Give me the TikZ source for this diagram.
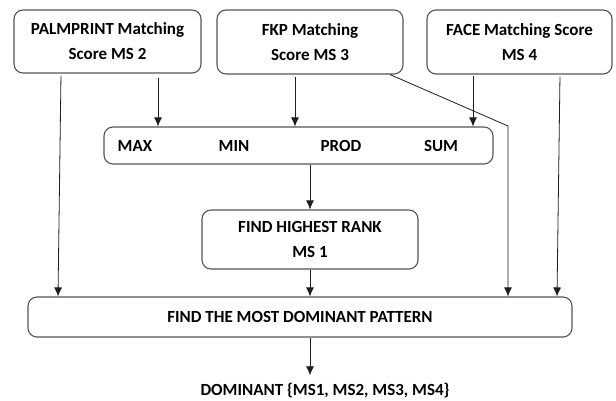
\documentclass[tikz,border=0pt]{standalone}
\usepackage{fontspec}
\setmainfont{Carlito}
\usetikzlibrary{arrows.meta}
\definecolor{boxgray}{RGB}{85,85,85}
\definecolor{linegray}{RGB}{30,30,30}

\tikzset{
  stage/.style={draw=boxgray, line width=1.1pt, rounded corners=9pt, align=center, inner sep=0pt,
    font=\fontsize{17}{25}\selectfont\bfseries},
  oplabel/.style={inner sep=0pt, font=\fontsize{17}{25}\selectfont\bfseries},
  arr/.style={draw=linegray, line width=0.8pt, -{Latex[length=9pt,width=8pt]}},
}

\begin{document}
\begin{tikzpicture}[x=1pt, y=-1pt]
\useasboundingbox (0,0) rectangle (616,400);

\node[stage, minimum width=187pt, minimum height=63pt] (palm) at (107.5,41.5) {PALMPRINT Matching\\Score MS 2};
\node[stage, minimum width=186pt, minimum height=64pt] (fkp) at (310,42) {FKP Matching\\Score MS 3};
\node[stage, minimum width=185pt, minimum height=64pt] (face) at (519.5,42) {FACE Matching Score\\MS 4};

\node[stage, minimum width=389pt, minimum height=37pt] (ops) at (298.5,145.5) {};
\node[oplabel] (max) at (135,146) {MAX};
\node[oplabel] (min) at (234,146) {MIN};
\node[oplabel] (prod) at (341,146) {PROD};
\node[oplabel] (sum) at (441,146) {SUM};

\node[stage, minimum width=216pt, minimum height=59pt] (rank) at (310,239.5) {FIND HIGHEST RANK\\MS 1};
\node[stage, minimum width=544pt, minimum height=40pt] (dom) at (300,317) {FIND THE MOST DOMINANT PATTERN};
\node[oplabel] (result) at (325,391) {DOMINANT \{MS1, MS2, MS3, MS4\}};

\coordinate (bend) at (508,126);

\draw[arr, shorten <=2pt] ([xshift=-46.5pt]palm.south) -- ([xshift=-242pt]dom.north);
\draw[arr, shorten <=4pt] ([xshift=50.5pt]palm.south) -- ([xshift=-140.5pt]ops.north);
\draw[arr, shorten <=2pt] ([xshift=-15pt]fkp.south) -- ([xshift=-3.5pt]ops.north);
\draw[arr] ([xshift=80pt]fkp.south) -- (bend) -- ([xshift=208pt]dom.north);
\draw[arr, shorten <=1pt] ([xshift=-46.5pt]face.south) -- ([xshift=174.5pt]ops.north);
\draw[arr, shorten <=2pt] ([xshift=40.5pt]face.south) -- ([xshift=257pt]dom.north);
\draw[arr] (ops.south -| rank.north) -- (rank.north);
\draw[arr] (rank.south) -- (rank.south |- dom.north);
\draw[arr, shorten >=8pt] (rank.south |- dom.south) -- (rank.south |- result.north);
\end{tikzpicture}
\end{document}
